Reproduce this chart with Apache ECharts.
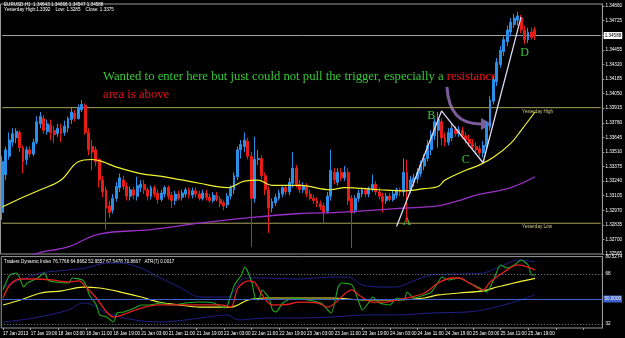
<!DOCTYPE html>
<html>
<head>
<meta charset="utf-8">
<title>EURUSD,H1</title>
<script src="https://cdn.jsdelivr.net/npm/echarts@6/dist/echarts.min.js"></script>
<style>
html, body { margin: 0; padding: 0; background: #000; }
#chart { width: 625px; height: 338px; }
</style>
</head>
<body>
<div id="chart"></div>
<script>
// H1 candles, [open, close, low, high]
const candles = [
  [1.3295,1.3342,1.3288,1.3347],[1.3330,1.3353,1.3325,1.3356],[1.3347,1.3362,1.3344,1.3369],[1.3360,1.3368,1.3356,1.3373],
  [1.3364,1.3370,1.3359,1.3373],[1.3369,1.3355,1.3351,1.3371],[1.3355,1.3342,1.3331,1.3357],[1.3344,1.3353,1.3339,1.3356],
  [1.3353,1.3349,1.3346,1.3356],[1.3349,1.3360,1.3347,1.3363],[1.3360,1.3379,1.3358,1.3384],[1.3377,1.3384,1.3373,1.3388],
  [1.3382,1.3371,1.3368,1.3385],[1.3370,1.3377,1.3367,1.3381],[1.3376,1.3369,1.3362,1.3381],[1.3371,1.3367,1.3359,1.3375],
  [1.3368,1.3373,1.3365,1.3377],[1.3373,1.3368,1.3360,1.3377],[1.3369,1.3375,1.3366,1.3380],[1.3373,1.3382,1.3369,1.3384],
  [1.3381,1.3388,1.3377,1.3392],[1.3387,1.3382,1.3379,1.3390],[1.3382,1.3392,1.3381,1.3395],[1.3390,1.3395,1.3388,1.3399],
  [1.3394,1.3369,1.3367,1.3396],[1.3369,1.3353,1.3348,1.3373],[1.3356,1.3351,1.3334,1.3362],[1.3353,1.3342,1.3338,1.3356],
  [1.3344,1.3325,1.3318,1.3345],[1.3325,1.3314,1.3309,1.3329],[1.3316,1.3299,1.3279,1.3319],[1.3301,1.3295,1.3290,1.3306],
  [1.3297,1.3308,1.3294,1.3312],[1.3308,1.3319,1.3305,1.3323],[1.3318,1.3327,1.3314,1.3331],[1.3325,1.3319,1.3316,1.3329],
  [1.3319,1.3310,1.3306,1.3323],[1.3310,1.3316,1.3306,1.3319],[1.3316,1.3311,1.3307,1.3319],[1.3310,1.3320,1.3306,1.3328],
  [1.3318,1.3321,1.3314,1.3325],[1.3321,1.3316,1.3312,1.3325],[1.3316,1.3310,1.3306,1.3318],[1.3310,1.3318,1.3307,1.3320],
  [1.3318,1.3312,1.3309,1.3320],[1.3313,1.3307,1.3303,1.3316],[1.3307,1.3313,1.3305,1.3316],[1.3312,1.3318,1.3309,1.3320],
  [1.3318,1.3310,1.3307,1.3320],[1.3311,1.3306,1.3299,1.3314],[1.3306,1.3312,1.3302,1.3315],[1.3312,1.3308,1.3306,1.3315],
  [1.3309,1.3313,1.3306,1.3316],[1.3312,1.3316,1.3309,1.3318],[1.3316,1.3311,1.3308,1.3318],[1.3311,1.3315,1.3308,1.3318],
  [1.3315,1.3312,1.3309,1.3318],[1.3312,1.3308,1.3306,1.3315],[1.3308,1.3313,1.3306,1.3316],[1.3313,1.3309,1.3306,1.3316],
  [1.3309,1.3306,1.3304,1.3312],[1.3306,1.3311,1.3304,1.3314],[1.3311,1.3307,1.3305,1.3314],[1.3307,1.3303,1.3300,1.3310],
  [1.3304,1.3301,1.3297,1.3306],[1.3302,1.3310,1.3299,1.3313],[1.3310,1.3318,1.3307,1.3320],[1.3316,1.3329,1.3312,1.3332],
  [1.3328,1.3353,1.3325,1.3356],[1.3353,1.3358,1.3345,1.3362],[1.3356,1.3362,1.3351,1.3369],[1.3361,1.3347,1.3344,1.3364],
  [1.3347,1.3308,1.3263,1.3351],[1.3308,1.3344,1.3304,1.3365],[1.3344,1.3345,1.3339,1.3353],[1.3345,1.3329,1.3325,1.3348],
  [1.3329,1.3316,1.3311,1.3332],[1.3316,1.3299,1.3276,1.3319],[1.3299,1.3305,1.3295,1.3308],[1.3304,1.3309,1.3301,1.3312],
  [1.3308,1.3313,1.3306,1.3316],[1.3312,1.3318,1.3309,1.3319],[1.3318,1.3314,1.3311,1.3320],[1.3314,1.3323,1.3311,1.3327],
  [1.3322,1.3336,1.3318,1.3351],[1.3336,1.3321,1.3318,1.3339],[1.3321,1.3316,1.3313,1.3325],[1.3316,1.3319,1.3313,1.3323],
  [1.3319,1.3312,1.3309,1.3322],[1.3312,1.3308,1.3306,1.3316],[1.3308,1.3306,1.3303,1.3311],[1.3306,1.3303,1.3300,1.3309],
  [1.3303,1.3300,1.3297,1.3306],[1.3301,1.3295,1.3285,1.3304],[1.3296,1.3310,1.3294,1.3314],[1.3310,1.3334,1.3306,1.3353],
  [1.3332,1.3325,1.3321,1.3336],[1.3323,1.3332,1.3320,1.3336],[1.3332,1.3327,1.3324,1.3336],[1.3327,1.3332,1.3324,1.3338],
  [1.3332,1.3306,1.3302,1.3336],[1.3308,1.3295,1.3262,1.3311],[1.3297,1.3308,1.3294,1.3311],[1.3308,1.3313,1.3305,1.3316],
  [1.3312,1.3316,1.3309,1.3318],[1.3316,1.3312,1.3309,1.3318],[1.3312,1.3317,1.3309,1.3319],[1.3317,1.3321,1.3314,1.3330],
  [1.3321,1.3314,1.3311,1.3324],[1.3314,1.3310,1.3307,1.3318],[1.3310,1.3305,1.3295,1.3313],[1.3306,1.3310,1.3303,1.3313],
  [1.3310,1.3307,1.3305,1.3313],[1.3307,1.3312,1.3305,1.3315],[1.3311,1.3316,1.3308,1.3318],[1.3316,1.3314,1.3310,1.3318],
  [1.3314,1.3332,1.3310,1.3345],[1.3332,1.3316,1.3286,1.3344],[1.3316,1.3325,1.3313,1.3329],[1.3323,1.3327,1.3319,1.3331],
  [1.3326,1.3332,1.3322,1.3336],[1.3331,1.3339,1.3328,1.3343],[1.3338,1.3345,1.3334,1.3349],[1.3345,1.3357,1.3342,1.3362],
  [1.3353,1.3367,1.3348,1.3371],[1.3366,1.3379,1.3362,1.3382],[1.3371,1.3381,1.3355,1.3388],[1.3379,1.3364,1.3357,1.3382],
  [1.3364,1.3360,1.3356,1.3369],[1.3360,1.3369,1.3357,1.3373],[1.3364,1.3373,1.3361,1.3377],[1.3372,1.3368,1.3365,1.3375],
  [1.3368,1.3372,1.3365,1.3375],[1.3371,1.3366,1.3363,1.3374],[1.3366,1.3362,1.3359,1.3369],[1.3363,1.3359,1.3356,1.3367],
  [1.3359,1.3356,1.3353,1.3363],[1.3356,1.3353,1.3350,1.3360],[1.3354,1.3350,1.3347,1.3357],[1.3350,1.3357,1.3346,1.3361],
  [1.3356,1.3375,1.3353,1.3379],[1.3374,1.3399,1.3371,1.3403],[1.3398,1.3418,1.3395,1.3421],[1.3416,1.3434,1.3412,1.3438],
  [1.3432,1.3445,1.3429,1.3449],[1.3444,1.3455,1.3440,1.3458],[1.3453,1.3464,1.3449,1.3468],[1.3462,1.3471,1.3458,1.3475],
  [1.3469,1.3475,1.3466,1.3479],[1.3473,1.3477,1.3468,1.3481],[1.3475,1.3464,1.3461,1.3478],[1.3464,1.3455,1.3451,1.3468],
  [1.3455,1.3462,1.3452,1.3466],[1.3462,1.3457,1.3455,1.3466],[1.34643,1.34588,1.34547,1.34666]
];

// moving averages, [bar index, price]
const fastMA = [
  [0,1.3300],[6,1.3309],[11,1.3316],[17,1.3325],[22,1.3342],[26,1.3344],[29,1.3342],[33,1.3337],
  [40,1.3331],[47,1.3328],[57,1.3322],[65,1.3318],[70,1.3324],[74,1.3325],[78,1.3320],[86,1.3320],
  [95,1.3316],[99,1.3318],[109,1.3316],[116,1.3315],[122,1.3317],[126,1.3319],[128,1.3325],
  [134,1.3334],[138,1.3339],[142,1.3346],[147,1.3359],[150,1.3371],[154,1.3388]
];
const slowMA = [
  [0,1.3240],[9,1.3256],[19,1.3263],[28,1.3275],[43,1.3279],[57,1.3285],[71,1.3290],[86,1.3294],
  [97,1.3295],[116,1.3299],[126,1.3301],[132,1.3306],[137,1.3311],[147,1.3318],[154,1.3328]
];

// Traders Dynamic Index lines, [bar index, value]
const tdiPrice = [
  [0,56.5],[2,67.3],[4,68.7],[6,58.6],[7,61.5],[10,65.1],[12,68.7],[13,63.7],[15,62.2],[19,61.5],
  [20,65.1],[23,63.7],[24,60.1],[25,52.9],[27,45.7],[28,38.5],[30,37.0],[32,33.4],[33,39.9],[35,40.6],
  [38,43.5],[40,45.7],[42,45.7],[46,47.1],[49,45.7],[53,47.1],[57,47.8],[61,47.1],[64,43.5],[65,45.7],
  [67,60.1],[69,67.3],[70,73.0],[72,62.2],[73,50.7],[74,49.3],[75,56.5],[77,50.7],[78,42.1],[79,40.6],
  [81,47.1],[84,50.7],[88,49.3],[92,47.1],[95,39.9],[97,58.6],[98,61.5],[101,60.1],[103,47.8],[104,42.1],
  [106,47.8],[107,51.4],[109,47.1],[112,45.7],[114,50.7],[116,49.3],[117,55.0],[119,50.7],[122,52.9],
  [124,55.0],[126,62.2],[127,65.8],[129,63.7],[132,65.1],[135,61.5],[138,57.9],[140,55.0],[142,63.7],
  [144,74.5],[146,72.3],[148,74.5],[150,78.1],[152,74.5],[153,67.3],[154,67.5]
];
const tdiSignal = [
  [0,50.7],[2,60.1],[5,64.4],[9,64.4],[14,63.7],[19,62.2],[22,63.0],[24,58.6],[27,50.7],[30,40.6],
  [32,37.0],[36,39.9],[40,43.5],[45,45.7],[51,45.7],[57,45.7],[63,45.7],[66,44.2],[68,57.9],[71,63.0],
  [73,61.5],[75,52.9],[78,45.7],[81,45.7],[86,47.8],[91,47.1],[94,44.2],[101,56.5],[103,52.9],[107,47.8],
  [111,47.8],[114,49.3],[118,51.4],[122,54.3],[126,61.5],[130,65.1],[132,65.1],[135,61.5],[139,56.5],
  [141,62.2],[145,69.4],[149,74.5],[152,73.0],[154,70.9]
];
const tdiBase = [
  [0,45.7],[5,49.3],[11,54.3],[17,55.8],[23,58.6],[28,57.9],[34,55.0],[40,51.4],[45,47.8],[51,45.7],
  [57,44.2],[66,44.2],[71,49.3],[76,50.7],[86,50.7],[95,50.7],[105,49.3],[114,49.3],[122,50.7],[126,52.9],
  [132,54.3],[139,55.8],[143,58.6],[149,62.2],[154,64.9]
];
const tdiUpper = [
  [0,58.6],[5,63.7],[11,68.7],[19,70.9],[24,72.3],[30,75.9],[34,75.9],[40,72.3],[45,65.8],[51,58.6],
  [57,51.4],[65,51.4],[70,65.1],[76,65.1],[86,64.4],[95,65.8],[100,65.8],[104,60.1],[110,58.6],[114,58.6],
  [118,62.2],[124,67.3],[132,68.0],[139,68.7],[145,74.5],[149,78.1],[154,76.8]
];
const tdiLower = [
  [0,33.4],[9,36.3],[19,42.1],[23,47.1],[26,45.7],[30,39.9],[38,34.9],[45,33.4],[53,34.9],[59,37.0],
  [65,38.5],[68,34.9],[76,36.3],[86,36.3],[95,37.0],[105,38.5],[114,38.5],[124,39.9],[134,40.6],[139,42.1],
  [147,47.1],[154,53.0]
];
const tdiLevels = [32, 50, 68];
const tdiRange = [29.1, 80.5274];

const yesterdayHigh = 1.3392;
const yesterdayLow = 1.3285;
const lastPrice = 1.34588;
const priceRange = [1.32565, 1.3488];
const priceStep = 0.00135;

// hand drawn A-B-C-D swing
const wave = [[114,1.3282],[127,1.3389],[139,1.3341],[150,1.3476]];
const waveLetters = [['A',117,1.3286],['B',124,1.3384],['C',134,1.3344],['D',151,1.3443]];

const MON = ['Jan','Feb','Mar','Apr','May','Jun','Jul','Aug','Sep','Oct','Nov','Dec'];
const slotCount = 174;   // empty space right of the last bar
const categories = [];
let t = Date.UTC(2013, 0, 17, 11);
while (categories.length < slotCount) {
    const d = new Date(t);
    const wd = d.getUTCDay();
    if (wd !== 0 && wd !== 6) {
        const hh = String(d.getUTCHours()).padStart(2, '0');
        categories.push(categories.length === 0
            ? d.getUTCDate() + ' ' + MON[d.getUTCMonth()] + ' ' + d.getUTCFullYear()
            : d.getUTCDate() + ' ' + MON[d.getUTCMonth()] + ' ' + hh + ':00');
    }
    t += 3600e3;
}

const tiny = { fontFamily: 'Liberation Sans', fontSize: 4.6, color: '#fff' };
const lineBase = { type: 'line', symbol: 'none', silent: true, clip: true };
// full width horizontal price level
const level = (name, v, color, z) => ({
    ...lineBase, name: name, xAxisIndex: 0, yAxisIndex: 0, z: z || 2,
    data: [[0, v], [slotCount - 1, v]],
    lineStyle: { color: color, width: 1 }
});

const option = {
    backgroundColor: '#000',
    animation: false,
    grid: [
        { left: 0.5, right: 19, top: 4, height: 250, show: true, borderColor: '#9a9a9a', borderWidth: 1 },
        { left: 0.5, right: 19, top: 256.6, height: 71.4, show: true, borderColor: '#9a9a9a', borderWidth: 1 }
    ],
    xAxis: [
        {
            type: 'category', gridIndex: 0, data: categories, boundaryGap: true,
            axisLine: { show: false }, axisTick: { show: false }, axisLabel: { show: false }, splitLine: { show: false }
        },
        {
            type: 'category', gridIndex: 1, data: categories, boundaryGap: true,
            axisLine: { show: false },
            axisTick: { show: true, interval: 7, alignWithLabel: true, length: 2, lineStyle: { color: '#9a9a9a' } },
            axisLabel: {
                ...tiny, interval: 7, align: 'left', margin: 3,
                formatter: (v, i) => (i < candles.length ? v : '')
            },
            splitLine: { show: false }
        }
    ],
    yAxis: [
        {
            type: 'value', gridIndex: 0, position: 'right',
            min: priceRange[0], max: priceRange[1], interval: priceStep,
            axisLine: { show: true, lineStyle: { color: '#9a9a9a' } },
            axisTick: { show: true, length: 2, lineStyle: { color: '#9a9a9a' } },
            axisLabel: { ...tiny, margin: 3, showMaxLabel: false, formatter: v => v.toFixed(5) },
            splitLine: { show: false }
        },
        {
            type: 'value', gridIndex: 1, position: 'right',
            min: tdiRange[0], max: tdiRange[1],
            axisLine: { show: true, lineStyle: { color: '#9a9a9a' } },
            axisTick: { show: false },
            axisLabel: {
                ...tiny, margin: 3,
                customValues: [tdiRange[0], tdiLevels[0], tdiLevels[2], tdiRange[1]],
                formatter: v => (tdiLevels.includes(v) ? String(v) : v.toFixed(4))
            },
            splitLine: { show: false }
        }
    ],
    series: [
        level('Yesterday High', yesterdayHigh, '#a8a45a'),
        level('Yesterday Low', yesterdayLow, '#a8a45a'),
        {
            ...level('Bid', lastPrice, '#a8a8a8'),
            endLabel: {
                show: true, distance: 3, ...tiny, color: '#000',
                backgroundColor: '#fff', padding: [1, 1], formatter: lastPrice.toFixed(5)
            }
        },
        {
            name: 'EURUSD,H1', type: 'candlestick', xAxisIndex: 0, yAxisIndex: 0,
            data: candles, barWidth: 2.4, silent: true, z: 3,
            itemStyle: { color: '#2b8fe8', color0: '#e81c16', borderColor: '#2b8fe8', borderColor0: '#e81c16', borderWidth: 1 }
        },
        { ...lineBase, name: 'MA fast', xAxisIndex: 0, yAxisIndex: 0, data: fastMA, smooth: 0.4, z: 4,
          lineStyle: { color: '#f2f230', width: 1.2 } },
        { ...lineBase, name: 'MA slow', xAxisIndex: 0, yAxisIndex: 0, data: slowMA, smooth: 0.4, z: 4,
          lineStyle: { color: '#9a30c8', width: 1.3 } },
        { ...lineBase, name: 'ABCD', xAxisIndex: 0, yAxisIndex: 0, data: wave, z: 6,
          lineStyle: { color: '#dcd8f2', width: 1.3 } },

        { ...lineBase, name: 'VB High', xAxisIndex: 1, yAxisIndex: 1, data: tdiUpper, smooth: 0.3,
          lineStyle: { color: '#20208a', width: 1 } },
        { ...lineBase, name: 'VB Low', xAxisIndex: 1, yAxisIndex: 1, data: tdiLower, smooth: 0.3,
          lineStyle: { color: '#20208a', width: 1 } },
        {
            ...lineBase, name: 'Market Base', xAxisIndex: 1, yAxisIndex: 1, data: tdiBase, smooth: 0.3,
            lineStyle: { color: '#f4f43a', width: 1.2 },
            markLine: {
                silent: true, symbol: ['none', 'none'], animation: false,
                data: [
                    { yAxis: tdiLevels[2], lineStyle: { color: '#8a8a8a', width: 1, type: [1, 2] }, label: { show: false } },
                    { yAxis: tdiLevels[0], lineStyle: { color: '#8a8a8a', width: 1, type: [1, 2] }, label: { show: false } },
                    {
                        yAxis: tdiLevels[1], lineStyle: { color: '#3d62d0', width: 1, type: 'solid' },
                        label: { show: true, position: 'end', distance: 1, ...tiny, backgroundColor: '#3d62d0',
                                 padding: [1, 1], formatter: tdiLevels[1].toFixed(4) }
                    }
                ]
            }
        },
        { ...lineBase, name: 'RSI Price', xAxisIndex: 1, yAxisIndex: 1, data: tdiPrice, smooth: 0.2,
          lineStyle: { color: '#22a822', width: 1.1 } },
        { ...lineBase, name: 'Trade Signal', xAxisIndex: 1, yAxisIndex: 1, data: tdiSignal, smooth: 0.3,
          lineStyle: { color: '#e82020', width: 1.3 } }
    ]
};

const chart = echarts.init(document.getElementById('chart'), null, { renderer: 'canvas' });
chart.setOption(option);

const toPx = (i, v) => chart.convertToPixel({ gridIndex: 0 }, [i, v]);
const serif = '12.7px "Liberation Serif"';
const small = '4.6px "Liberation Sans"';
const graphics = [
    { type: 'text', left: 4, top: 2, style: { text: 'EURUSD,H1  1.34643 1.34666 1.34547 1.34588', fill: '#fff', font: small } },
    { type: 'text', left: 4, top: 7, style: { text: 'Yesterday High:1.3392    Low: 1.3285    Close: 1.3375', fill: '#fff', font: small } },
    { type: 'text', left: 4, top: 259.5, style: { text: 'Traders Dynamic Index 76.7766 64.8662 52.9557 67.5478 70.8667   ATR(7) 0.0017', fill: '#fff', font: small } },
    {
        type: 'text', left: 103, top: 70,
        style: {
            text: '{g|Wanted to enter here but just could not pull the trigger, especially a }{r|resistance}',
            font: serif,
            rich: { g: { fill: '#36c836', font: serif }, r: { fill: '#e8141c', font: serif } }
        }
    },
    { type: 'text', left: 103, top: 88, style: { text: 'area is above', fill: '#e8141c', font: serif } },
    // curved arrow
    {
        type: 'bezierCurve', silent: true,
        shape: { x1: 447, y1: 87, cpx1: 449, cpy1: 125, x2: 482, y2: 124 },
        style: { stroke: '#7d5c9c', lineWidth: 3, fill: null }
    },
    {
        type: 'polygon', silent: true,
        shape: { points: [[481, 118], [492, 124], [481, 130]] },
        style: { fill: '#7d5c9c' }
    }
];
waveLetters.forEach(([txt, i, v]) => {
    const p = toPx(i, v);
    graphics.push({ type: 'text', x: p[0], y: p[1], style: { text: txt, fill: '#36c836', font: '12px "Liberation Serif"', align: 'center', verticalAlign: 'middle' } });
});
[['Yesterday High', yesterdayHigh], ['Yesterday Low', yesterdayLow]].forEach(([txt, v]) => {
    const p = toPx(0, v);
    graphics.push({ type: 'text', x: 522, y: p[1] + 1.5, style: { text: txt, fill: '#cfc98a', font: small } });
});
chart.setOption({ graphic: graphics });
</script>
</body>
</html>
